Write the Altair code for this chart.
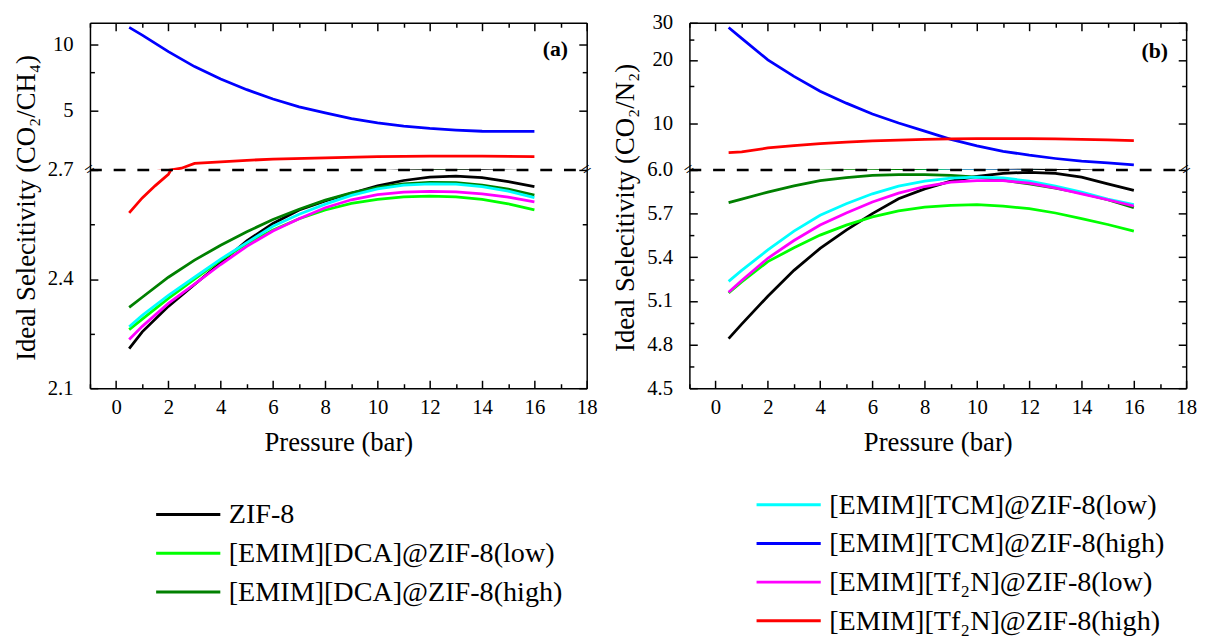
import altair as alt
import pandas as pd

FONT = "Liberation Serif"

series_names = ["ZIF-8", "[EMIM][DCA]@ZIF-8(low)", "[EMIM][DCA]@ZIF-8(high)",
                "[EMIM][TCM]@ZIF-8(low)", "[EMIM][TCM]@ZIF-8(high)",
                "[EMIM][Tf₂N]@ZIF-8(low)", "[EMIM][Tf₂N]@ZIF-8(high)"]
series_colors = ["#000000", "#00ff00", "#008000", "#00ffff", "#0000ff", "#ff00ff", "#ff0000"]

pressure = [0.5, 1, 2, 3, 4, 5, 6, 7, 8, 9, 10, 11, 12, 13, 14, 15, 16]
pressure_red_a = [0.5, 1, 1.5, 2, 2.5, 3, 4, 5, 6, 8, 10, 12, 14, 16]

# (a) CO2/CH4
a_zif8 = [2.209, 2.255, 2.325, 2.385, 2.445, 2.505, 2.553, 2.590, 2.615, 2.636, 2.656, 2.671, 2.680, 2.683, 2.679, 2.668, 2.654]
a_dca_low = [2.261, 2.290, 2.347, 2.400, 2.452, 2.497, 2.535, 2.566, 2.590, 2.608, 2.619, 2.626, 2.628, 2.626, 2.619, 2.607, 2.590]
a_dca_high = [2.322, 2.350, 2.405, 2.452, 2.493, 2.530, 2.564, 2.592, 2.617, 2.637, 2.652, 2.662, 2.666, 2.665, 2.658, 2.647, 2.631]
a_tcm_low = [2.269, 2.300, 2.355, 2.405, 2.455, 2.500, 2.545, 2.578, 2.606, 2.630, 2.648, 2.658, 2.662, 2.661, 2.654, 2.642, 2.624]
a_tcm_high = [11.92, 11.0, 9.26, 7.92, 6.96, 6.23, 5.65, 5.21, 4.89, 4.61, 4.41, 4.26, 4.16, 4.09, 4.04, 4.03, 4.03]
a_tf2n_low = [2.234, 2.270, 2.333, 2.386, 2.440, 2.490, 2.532, 2.566, 2.596, 2.618, 2.632, 2.639, 2.641, 2.640, 2.634, 2.625, 2.612]
a_tf2n_high = [2.582, 2.623, 2.657, 2.688, 2.75, 2.89, 2.94, 2.985, 3.02, 3.06, 3.10, 3.12, 3.12, 3.10]

# (b) CO2/N2
b_zif8 = [4.841, 4.940, 5.132, 5.310, 5.461, 5.587, 5.700, 5.802, 5.870, 5.923, 5.955, 5.977, 5.984, 5.977, 5.950, 5.904, 5.859]
b_dca_low = [5.154, 5.230, 5.370, 5.465, 5.552, 5.621, 5.677, 5.718, 5.745, 5.757, 5.761, 5.752, 5.734, 5.704, 5.666, 5.625, 5.580]
b_dca_high = [5.775, 5.800, 5.848, 5.890, 5.927, 5.948, 5.962, 5.968, 5.968, 5.962, 5.950, 5.930, 5.904, 5.875, 5.841, 5.795, 5.741]
b_tcm_low = [5.234, 5.310, 5.450, 5.580, 5.689, 5.768, 5.836, 5.889, 5.923, 5.943, 5.950, 5.945, 5.923, 5.889, 5.848, 5.800, 5.761]
b_tcm_high = [28.5, 25.3, 20.0, 16.7, 14.2, 12.46, 11.06, 10.03, 9.17, 8.38, 7.80, 7.36, 7.05, 6.80, 6.60, 6.49, 6.34]
b_tf2n_low = [5.159, 5.240, 5.393, 5.515, 5.621, 5.704, 5.780, 5.841, 5.886, 5.916, 5.927, 5.927, 5.909, 5.877, 5.836, 5.795, 5.752]
b_tf2n_high = [7.25, 7.31, 7.63, 7.83, 8.00, 8.13, 8.24, 8.32, 8.38, 8.42, 8.45, 8.45, 8.45, 8.42, 8.38, 8.33, 8.27]

rows = []


def add(panel, name, xs, ys):
    for x, y in zip(xs, ys):
        rows.append({"panel": panel, "series": name, "pressure": x, "value": y})


add("a", series_names[0], pressure, a_zif8)
add("a", series_names[1], pressure, a_dca_low)
add("a", series_names[2], pressure, a_dca_high)
add("a", series_names[3], pressure, a_tcm_low)
add("a", series_names[4], pressure, a_tcm_high)
add("a", series_names[5], pressure, a_tf2n_low)
add("a", series_names[6], pressure_red_a, a_tf2n_high)
add("b", series_names[0], pressure, b_zif8)
add("b", series_names[1], pressure, b_dca_low)
add("b", series_names[2], pressure, b_dca_high)
add("b", series_names[3], pressure, b_tcm_low)
add("b", series_names[4], pressure, b_tcm_high)
add("b", series_names[5], pressure, b_tf2n_low)
add("b", series_names[6], pressure, b_tf2n_high)
df = pd.DataFrame(rows)

W, H_UP, H_LO = 503, 149, 221
X_SCALE = alt.Scale(domain=[-1, 18], nice=False, zero=False)
X_TICKS = list(range(-1, 19))
X_LABELS = list(range(0, 19, 2))
X_TEST = "datum.value % 2 == 0"
LW = 2.8

# a wide horizontal stroke symbol (path is twice the nominal symbol width)
leg_common = dict(orient="none", title=None, symbolType="M-2,0L2,0", symbolSize=1056,
                  symbolStrokeWidth=3, labelFont=FONT, labelFontSize=28.5, labelOffset=23,
                  labelLimit=0, rowPadding=6.2, labelColor="black")
legend1 = alt.Legend(legendX=81.5, legendY=480, **leg_common)
legend2 = alt.Legend(legendX=689.5, legendY=470, **leg_common)


def tsize(test, major=8, minor=4.5):
    return {"condition": {"test": test, "value": major}, "value": minor}


def sub_chart(panel, yscale, height, y_labels, y_fmt, y_ticks, y_test, lower,
              y_title=None, title_y=0, tag=None, tag_xy=None, brk=None):
    d = df[df["panel"] == panel]
    base = alt.Chart(d).properties(width=W, height=height)
    if lower:
        x_main = alt.Axis(orient="bottom", values=X_LABELS, format="d", ticks=False, tickSize=0,
                          labelPadding=9, labelFlush=False, domain=True,
                          title="Pressure (bar)", titlePadding=12)
        x_in = alt.Axis(orient="top", offset=-height, values=X_TICKS, tickSize=tsize(X_TEST),
                        labels=False, domain=False, title=None)
    else:
        x_main = alt.Axis(orient="top", labels=False, ticks=False, domain=True, title=None)
        x_in = alt.Axis(orient="bottom", offset=-height, values=X_TICKS, tickSize=tsize(X_TEST),
                        labels=False, domain=False, title=None)
    ykw = dict(orient="left", values=y_labels, format=y_fmt, ticks=False, tickSize=0,
               labelPadding=17, domain=True)
    if y_title:
        y_main = alt.Axis(title=y_title, titleY=title_y, titlePadding=7, **ykw)
    else:
        y_main = alt.Axis(title=None, **ykw)
    y_in_l = alt.Axis(orient="right", offset=-W, values=y_ticks, tickSize=tsize(y_test),
                      labels=False, domain=False, title=None)
    y_in_r = alt.Axis(orient="left", offset=-W, values=y_ticks, tickSize=tsize(y_test),
                      labels=False, domain=True, title=None)

    def X(axis):
        return alt.X("pressure:Q", scale=X_SCALE, axis=axis)

    def Y(axis):
        return alt.Y("value:Q", scale=yscale, axis=axis)

    l1 = base.transform_filter(
        alt.FieldOneOfPredicate(field="series", oneOf=series_names[:3])
    ).mark_line(clip=True, strokeWidth=LW).encode(
        x=X(x_main), y=Y(y_main),
        color=alt.Color("series:N", scale=alt.Scale(domain=series_names[:3], range=series_colors[:3]),
                        legend=legend1),
    )
    l2 = base.transform_filter(
        alt.FieldOneOfPredicate(field="series", oneOf=series_names[3:])
    ).mark_line(clip=True, strokeWidth=LW).encode(
        x=X(None), y=Y(None),
        stroke=alt.Stroke("series:N", scale=alt.Scale(domain=series_names[3:], range=series_colors[3:]),
                          legend=legend2),
    )
    l3 = base.mark_line(opacity=0, clip=True).encode(x=X(x_in), y=Y(y_in_l), detail="series:N")
    l4 = base.mark_line(opacity=0, clip=True).encode(x=X(None), y=Y(y_in_r), detail="series:N")
    layers = [l1, l2, l3, l4]
    if brk is not None:
        bdf = pd.DataFrame({"x0": [-1], "x1": [18], "y": [brk]})
        rule = alt.Chart(bdf).mark_rule(color="black", strokeWidth=2.5, strokeDash=[12, 12]).encode(
            x=alt.X("x0:Q", scale=X_SCALE, axis=None), x2="x1:Q",
            y=alt.Y("y:Q", scale=yscale, axis=None))
        mdf = pd.DataFrame({"x": [-1, 18], "y": [brk, brk], "t": ["=", "="]})
        marks = alt.Chart(mdf).mark_text(font=FONT, fontSize=18, angle=325, color="black").encode(
            x=alt.X("x:Q", scale=X_SCALE, axis=None),
            y=alt.Y("y:Q", scale=yscale, axis=None), text="t:N")
        layers += [rule, marks]
    if tag is not None:
        tdf = pd.DataFrame({"x": [tag_xy[0]], "y": [tag_xy[1]], "t": [tag]})
        txt = alt.Chart(tdf).mark_text(font=FONT, fontSize=22, fontWeight="bold", color="black").encode(
            x=alt.X("x:Q", scale=X_SCALE, axis=None),
            y=alt.Y("y:Q", scale=yscale, axis=None), text="t:N")
        layers.append(txt)
    return alt.layer(*layers).resolve_axis(x="independent", y="independent")


up_a = sub_chart("a", alt.Scale(type="log", domain=[2.7, 12.5], nice=False), H_UP,
                 [5, 10], "d", [5, 7.5, 10], "datum.value == 5 || datum.value == 10", False,
                 tag="(a)", tag_xy=(16.8, 9.5))
lo_a = sub_chart("a", alt.Scale(domain=[2.1, 2.7], nice=False, zero=False), H_LO,
                 [2.1, 2.4, 2.7], ".1f", [2.1, 2.25, 2.4, 2.55, 2.7],
                 "abs(round(datum.value*100) % 30) == 0", True,
                 y_title="Ideal Selecitivity (CO₂/CH₄)", title_y=38, brk=2.7)
up_b = sub_chart("b", alt.Scale(type="log", domain=[6.0, 30], nice=False), H_UP,
                 [10, 20, 30], "d", [10, 15, 20, 25, 30],
                 "datum.value == 10 || datum.value == 20 || datum.value == 30", False,
                 tag="(b)", tag_xy=(16.8, 22.0))
lo_b = sub_chart("b", alt.Scale(domain=[4.5, 6.0], nice=False, zero=False), H_LO,
                 [4.5, 4.8, 5.1, 5.4, 5.7, 6.0], ".1f",
                 [4.5, 4.65, 4.8, 4.95, 5.1, 5.25, 5.4, 5.55, 5.7, 5.85, 6.0],
                 "abs(round(datum.value*100) % 30) == 0", True,
                 y_title="Ideal Selecitivity (CO₂/N₂)", title_y=38, brk=6.0)

chart = alt.concat(
    up_a, up_b, lo_a, lo_b, columns=2,
    spacing={"row": 0, "column": 104}, bounds="flush",
).resolve_scale(
    color="shared", stroke="shared"
).properties(
    padding={"left": 4, "top": 0, "right": 0, "bottom": 0}
).configure_view(
    stroke=None
).configure_axis(
    labelFont=FONT, titleFont=FONT, labelFontSize=21, titleFontSize=27,
    titleFontWeight="normal", labelColor="black", titleColor="black",
    domainColor="black", tickColor="black", domainWidth=1.5, tickWidth=1.5, grid=False,
)

chart.save("out.html", embed_options={"renderer": "svg", "actions": False})
